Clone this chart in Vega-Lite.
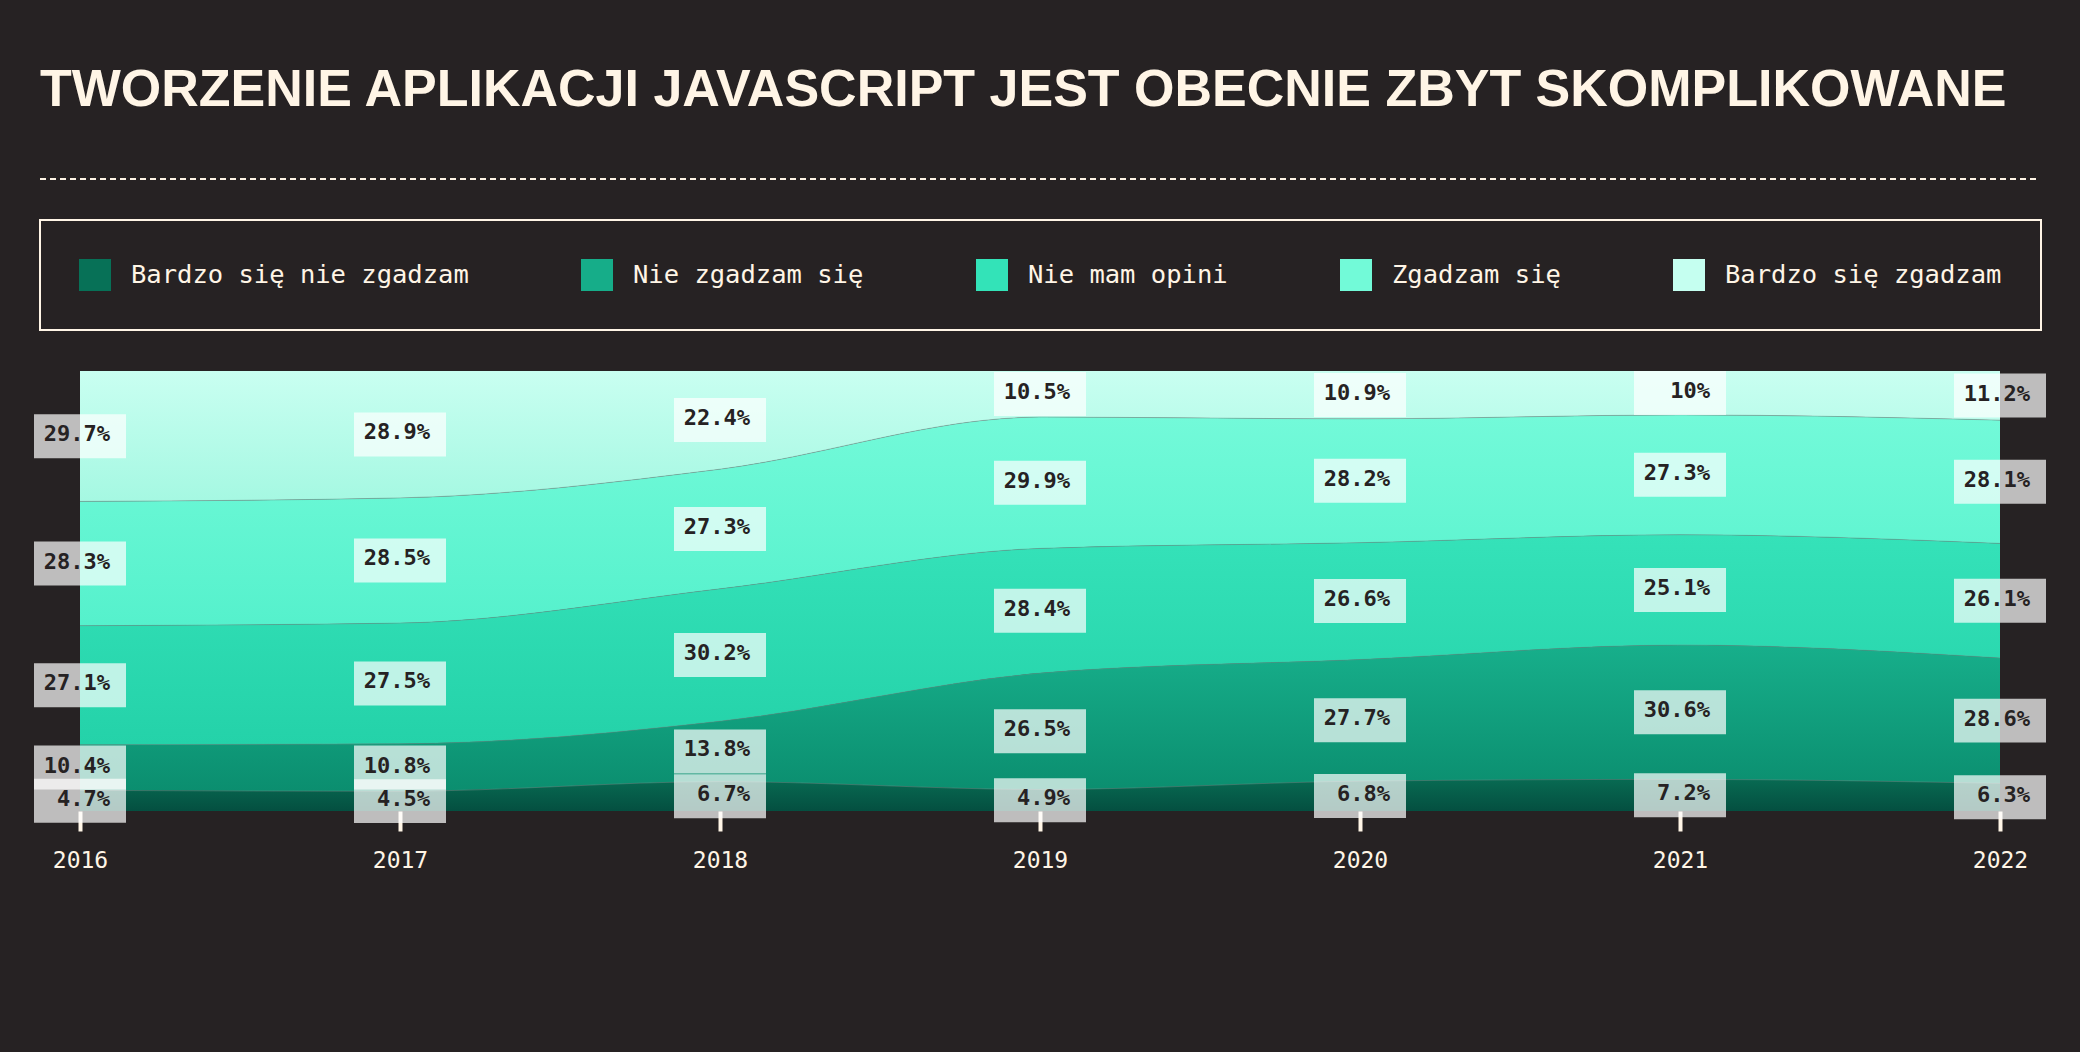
{
  "$schema": "https://vega.github.io/schema/vega-lite/v6.json",
  "background": "#262223",
  "padding": {"left": 34, "right": 34, "top": 64, "bottom": 187},
  "autosize": {"type": "pad"},
  "title": {
    "text": "TWORZENIE APLIKACJI JAVASCRIPT JEST OBECNIE ZBYT SKOMPLIKOWANE",
    "anchor": "start",
    "font": "Liberation Sans",
    "fontWeight": "bold",
    "fontSize": 52,
    "color": "#fff5e6",
    "baseline": "alphabetic",
    "offset": 20,
    "dx": 6
  },
  "config": {
    "view": {"stroke": null},
    "concat": {"spacing": 191}
  },
  "bounds": "flush",
  "center": true,
  "vconcat": [
    {
      "width": 2000,
      "height": 2,
      "data": {"values": [{"start": 0, "end": 1}]},
      "mark": {"type": "rule", "color": "#fff5e6", "strokeWidth": 2, "strokeDash": [6, 4]},
      "encoding": {
        "x": {"field": "start", "type": "quantitative", "scale": {"domain": [0, 1], "nice": false, "zero": false}, "axis": null},
        "x2": {"field": "end"}
      }
    },
    {
      "width": 1920,
      "height": 440,
      "data": {
        "values": [
          {"year": "2016", "category": "Bardzo się nie zgadzam", "order": 1, "value": 0.047},
          {"year": "2016", "category": "Nie zgadzam się", "order": 2, "value": 0.104},
          {"year": "2016", "category": "Nie mam opini", "order": 3, "value": 0.271},
          {"year": "2016", "category": "Zgadzam się", "order": 4, "value": 0.283},
          {"year": "2016", "category": "Bardzo się zgadzam", "order": 5, "value": 0.297},
          {"year": "2017", "category": "Bardzo się nie zgadzam", "order": 1, "value": 0.045},
          {"year": "2017", "category": "Nie zgadzam się", "order": 2, "value": 0.108},
          {"year": "2017", "category": "Nie mam opini", "order": 3, "value": 0.275},
          {"year": "2017", "category": "Zgadzam się", "order": 4, "value": 0.285},
          {"year": "2017", "category": "Bardzo się zgadzam", "order": 5, "value": 0.289},
          {"year": "2018", "category": "Bardzo się nie zgadzam", "order": 1, "value": 0.067},
          {"year": "2018", "category": "Nie zgadzam się", "order": 2, "value": 0.138},
          {"year": "2018", "category": "Nie mam opini", "order": 3, "value": 0.302},
          {"year": "2018", "category": "Zgadzam się", "order": 4, "value": 0.273},
          {"year": "2018", "category": "Bardzo się zgadzam", "order": 5, "value": 0.224},
          {"year": "2019", "category": "Bardzo się nie zgadzam", "order": 1, "value": 0.049},
          {"year": "2019", "category": "Nie zgadzam się", "order": 2, "value": 0.265},
          {"year": "2019", "category": "Nie mam opini", "order": 3, "value": 0.284},
          {"year": "2019", "category": "Zgadzam się", "order": 4, "value": 0.299},
          {"year": "2019", "category": "Bardzo się zgadzam", "order": 5, "value": 0.105},
          {"year": "2020", "category": "Bardzo się nie zgadzam", "order": 1, "value": 0.068},
          {"year": "2020", "category": "Nie zgadzam się", "order": 2, "value": 0.277},
          {"year": "2020", "category": "Nie mam opini", "order": 3, "value": 0.266},
          {"year": "2020", "category": "Zgadzam się", "order": 4, "value": 0.282},
          {"year": "2020", "category": "Bardzo się zgadzam", "order": 5, "value": 0.109},
          {"year": "2021", "category": "Bardzo się nie zgadzam", "order": 1, "value": 0.072},
          {"year": "2021", "category": "Nie zgadzam się", "order": 2, "value": 0.306},
          {"year": "2021", "category": "Nie mam opini", "order": 3, "value": 0.251},
          {"year": "2021", "category": "Zgadzam się", "order": 4, "value": 0.273},
          {"year": "2021", "category": "Bardzo się zgadzam", "order": 5, "value": 0.10},
          {"year": "2022", "category": "Bardzo się nie zgadzam", "order": 1, "value": 0.063},
          {"year": "2022", "category": "Nie zgadzam się", "order": 2, "value": 0.286},
          {"year": "2022", "category": "Nie mam opini", "order": 3, "value": 0.261},
          {"year": "2022", "category": "Zgadzam się", "order": 4, "value": 0.281},
          {"year": "2022", "category": "Bardzo się zgadzam", "order": 5, "value": 0.112}
        ]
      },
      "transform": [
        {"stack": "value", "groupby": ["year"], "sort": [{"field": "order", "order": "ascending"}], "offset": "normalize", "as": ["y0", "y1"]}
      ],
      "encoding": {
        "x": {
          "field": "year",
          "type": "ordinal",
          "scale": {"type": "point", "padding": 0},
          "axis": {
            "title": null,
            "labelAngle": 0,
            "domain": false,
            "grid": false,
            "ticks": true,
            "tickColor": "#fff5e6",
            "tickWidth": 4,
            "tickSize": 20,
            "labelColor": "#fff5e6",
            "labelFont": "DejaVu Sans Mono",
            "labelFontSize": 23,
            "labelPadding": 18
          }
        }
      },
      "layer": [
        {
          "transform": [{"filter": "datum.category === 'Bardzo się nie zgadzam'"}],
          "mark": {"type": "area", "interpolate": "monotone", "color": {"gradient": "linear", "x1": 0, "y1": 0, "x2": 0, "y2": 1, "stops": [{"offset": 0, "color": "#086a52"}, {"offset": 1, "color": "#044f40"}]}},
          "encoding": {"y": {"field": "y0", "type": "quantitative", "scale": {"domain": [0, 1], "nice": false}, "axis": null}, "y2": {"field": "y1"}}
        },
        {
          "transform": [{"filter": "datum.category === 'Nie zgadzam się'"}],
          "mark": {"type": "area", "interpolate": "monotone", "color": {"gradient": "linear", "x1": 0, "y1": 0, "x2": 0, "y2": 1, "stops": [{"offset": 0, "color": "#17af8b"}, {"offset": 1, "color": "#0b8e6f"}]}},
          "encoding": {"y": {"field": "y0", "type": "quantitative"}, "y2": {"field": "y1"}}
        },
        {
          "transform": [{"filter": "datum.category === 'Nie mam opini'"}],
          "mark": {"type": "area", "interpolate": "monotone", "color": {"gradient": "linear", "x1": 0, "y1": 0, "x2": 0, "y2": 1, "stops": [{"offset": 0, "color": "#35e2b9"}, {"offset": 1, "color": "#24d2a9"}]}},
          "encoding": {"y": {"field": "y0", "type": "quantitative"}, "y2": {"field": "y1"}}
        },
        {
          "transform": [{"filter": "datum.category === 'Zgadzam się'"}],
          "mark": {"type": "area", "interpolate": "monotone", "color": {"gradient": "linear", "x1": 0, "y1": 0, "x2": 0, "y2": 1, "stops": [{"offset": 0, "color": "#73fad9"}, {"offset": 1, "color": "#55f1cc"}]}},
          "encoding": {"y": {"field": "y0", "type": "quantitative"}, "y2": {"field": "y1"}}
        },
        {
          "transform": [{"filter": "datum.category === 'Bardzo się zgadzam'"}],
          "mark": {"type": "area", "interpolate": "monotone", "color": {"gradient": "linear", "x1": 0, "y1": 0, "x2": 0, "y2": 1, "stops": [{"offset": 0, "color": "#c9fff1"}, {"offset": 1, "color": "#a5f8e2"}]}},
          "encoding": {"y": {"field": "y0", "type": "quantitative"}, "y2": {"field": "y1"}}
        },
        {
          "transform": [{"filter": "datum.category !== 'Bardzo się zgadzam'"}],
          "mark": {"type": "line", "interpolate": "monotone", "color": "#6f8f87", "strokeWidth": 1, "opacity": 0.45},
          "encoding": {"y": {"field": "y1", "type": "quantitative"}, "detail": {"field": "category"}}
        },
        {
          "mark": {"type": "point", "filled": true, "opacity": 0, "size": 0},
          "encoding": {
            "y": {"field": "y1", "type": "quantitative"},
            "color": {
              "field": "category",
              "type": "nominal",
              "sort": ["Bardzo się nie zgadzam", "Nie zgadzam się", "Nie mam opini", "Zgadzam się", "Bardzo się zgadzam"],
              "scale": {
                "domain": ["Bardzo się nie zgadzam", "Nie zgadzam się", "Nie mam opini", "Zgadzam się", "Bardzo się zgadzam"],
                "range": ["#077157", "#16ad89", "#33e3b8", "#72fad8", "#c5fff0"]
              },
              "legend": {
                "title": null,
                "orient": "none",
                "legendX": 0,
                "legendY": 42,
                "direction": "horizontal",
                "columns": 5,
                "symbolType": "square",
                "symbolSize": 1024,
                "symbolOpacity": 1,
                "symbolStrokeWidth": 0,
                "labelFont": "DejaVu Sans Mono",
                "labelFontSize": 25.5,
                "labelColor": "#fff5e6",
                "labelOffset": 20,
                "labelLimit": 600,
                "columnPadding": 112,
                "padding": 39,
                "strokeColor": "#fff5e6",
                "encode": {"legend": {"update": {"strokeWidth": {"value": 2}}}}
              }
            }
          }
        },
        {
          "transform": [
            {"fold": ["y0", "y1"], "as": ["edge", "pos"]},
            {"aggregate": [{"op": "mean", "field": "pos", "as": "mid"}], "groupby": ["year", "category", "value"]}
          ],
          "mark": {"type": "point", "shape": "M-1,-0.478H1V0.478H-1Z", "size": 8464, "filled": true, "color": "#ffffff", "opacity": 0.7, "strokeWidth": 0},
          "encoding": {"y": {"field": "mid", "type": "quantitative"}}
        },
        {
          "transform": [
            {"fold": ["y0", "y1"], "as": ["edge", "pos"]},
            {"aggregate": [{"op": "mean", "field": "pos", "as": "mid"}], "groupby": ["year", "category", "value"]}
          ],
          "mark": {"type": "text", "align": "right", "baseline": "middle", "dx": 30, "dy": -2, "font": "DejaVu Sans Mono", "fontWeight": "bold", "fontSize": 22, "color": "#262223"},
          "encoding": {
            "y": {"field": "mid", "type": "quantitative"},
            "text": {"field": "value", "type": "quantitative", "format": ".1~%"}
          }
        }
      ]
    }
  ]
}
